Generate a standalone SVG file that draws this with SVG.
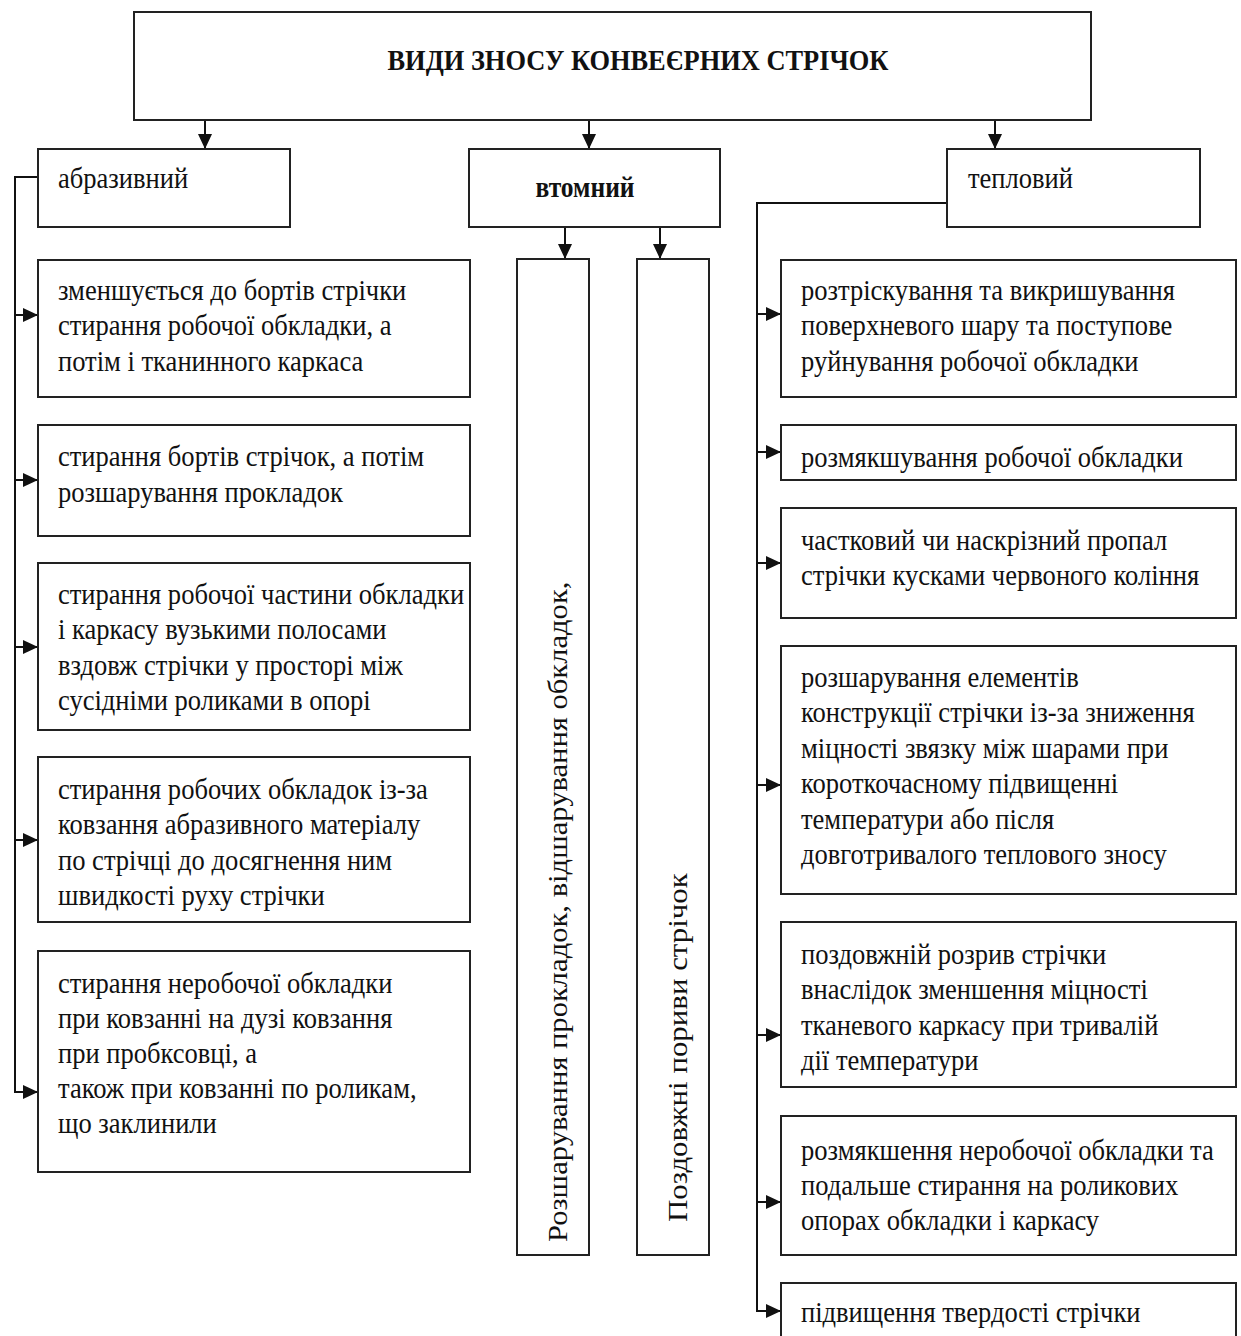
<svg xmlns="http://www.w3.org/2000/svg" width="1241" height="1336" viewBox="0 0 1241 1336">
<style>
.box{fill:#fff;stroke:#222;stroke-width:2}
.t{font-family:"Liberation Serif","Times New Roman",serif;font-size:30px;fill:#111}
.b{font-weight:bold}
.c{fill:none;stroke:#111;stroke-width:2}
</style>
<defs>
<marker id="ah" markerUnits="userSpaceOnUse" markerWidth="16" markerHeight="14" refX="15" refY="7" orient="auto">
<path d="M0,0 L15,7 L0,14 z" fill="#111"/>
</marker>
</defs>
<rect width="1241" height="1336" fill="#fff"/>
<g id="connectors">
<line class="c" x1="205" y1="120" x2="205" y2="149" marker-end="url(#ah)"/>
<line class="c" x1="589" y1="120" x2="589" y2="149" marker-end="url(#ah)"/>
<line class="c" x1="995" y1="120" x2="995" y2="149" marker-end="url(#ah)"/>
<line class="c" x1="565" y1="227" x2="565" y2="259" marker-end="url(#ah)"/>
<line class="c" x1="660" y1="227" x2="660" y2="259" marker-end="url(#ah)"/>
<path class="c" d="M38,177 H15 V1092 H38" marker-end="url(#ah)"/>
<path class="c" d="M15,315 H38" marker-end="url(#ah)"/>
<path class="c" d="M15,480 H38" marker-end="url(#ah)"/>
<path class="c" d="M15,647 H38" marker-end="url(#ah)"/>
<path class="c" d="M15,840 H38" marker-end="url(#ah)"/>
<path class="c" d="M947,203 H757 V1311 H781" marker-end="url(#ah)"/>
<path class="c" d="M757,314 H781" marker-end="url(#ah)"/>
<path class="c" d="M757,452 H781" marker-end="url(#ah)"/>
<path class="c" d="M757,563 H781" marker-end="url(#ah)"/>
<path class="c" d="M757,785 H781" marker-end="url(#ah)"/>
<path class="c" d="M757,1035 H781" marker-end="url(#ah)"/>
<path class="c" d="M757,1202 H781" marker-end="url(#ah)"/>
</g>
<g id="title">
<rect class="box" x="134" y="12" width="957" height="108"/>
<text class="t b" transform="translate(638,70) scale(0.88,1)" text-anchor="middle" font-size="31">ВИДИ ЗНОСУ КОНВЕЄРНИХ СТРІЧОК</text>
</g>
<g id="abrasive">
<rect class="box" x="38" y="149" width="252" height="78"/>
<text class="t" transform="translate(58,188) scale(0.885,1)">абразивний</text>
</g>
<g id="fatigue">
<rect class="box" x="469" y="149" width="251" height="78"/>
<text class="t b" transform="translate(585,197) scale(0.85,1)" text-anchor="middle" font-size="26">втомний</text>
</g>
<g id="thermal">
<rect class="box" x="947" y="149" width="253" height="78"/>
<text class="t" transform="translate(968,188) scale(0.885,1)">тепловий</text>
</g>
<g id="a1">
<rect class="box" x="38" y="260" width="432" height="137"/>
<text class="t" transform="translate(58,300) scale(0.885,1)"><tspan x="0">зменшується до бортів стрічки</tspan><tspan x="0" dy="35.5">стирання робочої обкладки, а</tspan><tspan x="0" dy="35.5">потім і тканинного каркаса</tspan></text>
</g>
<g id="a2">
<rect class="box" x="38" y="425" width="432" height="111"/>
<text class="t" transform="translate(58,466) scale(0.885,1)"><tspan x="0">стирання бортів стрічок, а потім</tspan><tspan x="0" dy="36">розшарування прокладок</tspan></text>
</g>
<g id="a3">
<rect class="box" x="38" y="563" width="432" height="167"/>
<text class="t" transform="translate(58,604) scale(0.885,1)"><tspan x="0">стирання робочої частини обкладки</tspan><tspan x="0" dy="35.5">і каркасу вузькими полосами</tspan><tspan x="0" dy="35.5">вздовж стрічки у просторі між</tspan><tspan x="0" dy="35.5">сусідніми роликами в опорі</tspan></text>
</g>
<g id="a4">
<rect class="box" x="38" y="757" width="432" height="165"/>
<text class="t" transform="translate(58,799) scale(0.885,1)"><tspan x="0">стирання робочих обкладок із-за</tspan><tspan x="0" dy="35.5">ковзання абразивного матеріалу</tspan><tspan x="0" dy="35.5">по стрічці до досягнення ним</tspan><tspan x="0" dy="35.5">швидкості руху стрічки</tspan></text>
</g>
<g id="a5">
<rect class="box" x="38" y="951" width="432" height="221"/>
<text class="t" transform="translate(58,993) scale(0.885,1)"><tspan x="0">стирання неробочої обкладки</tspan><tspan x="0" dy="35">при ковзанні на дузі ковзання</tspan><tspan x="0" dy="35">при пробксовці, а</tspan><tspan x="0" dy="35">також при ковзанні по роликам,</tspan><tspan x="0" dy="35">що заклинили</tspan></text>
</g>
<g id="f1">
<rect class="box" x="517" y="259" width="72" height="996"/>
<text class="t" transform="translate(567,1242) rotate(-90) scale(1.02,0.88)">Розшарування прокладок, відшарування обкладок,</text>
</g>
<g id="f2">
<rect class="box" x="637" y="259" width="72" height="996"/>
<text class="t" transform="translate(687,1222) rotate(-90) scale(1.03,0.88)">Поздовжні пориви стрічок</text>
</g>
<g id="r1">
<rect class="box" x="781" y="260" width="455" height="137"/>
<text class="t" transform="translate(801,300) scale(0.885,1)"><tspan x="0">розтріскування та викришування</tspan><tspan x="0" dy="35.5">поверхневого шару та поступове</tspan><tspan x="0" dy="35.5">руйнування робочої обкладки</tspan></text>
</g>
<g id="r2">
<rect class="box" x="781" y="425" width="455" height="55"/>
<text class="t" transform="translate(801,467) scale(0.885,1)">розмякшування робочої обкладки</text>
</g>
<g id="r3">
<rect class="box" x="781" y="508" width="455" height="110"/>
<text class="t" transform="translate(801,550) scale(0.885,1)"><tspan x="0">частковий чи наскрізний пропал</tspan><tspan x="0" dy="35.5">стрічки кусками червоного коління</tspan></text>
</g>
<g id="r4">
<rect class="box" x="781" y="646" width="455" height="248"/>
<text class="t" transform="translate(801,687) scale(0.885,1)"><tspan x="0">розшарування елементів</tspan><tspan x="0" dy="35.5">конструкції стрічки із-за зниження</tspan><tspan x="0" dy="35.5">міцності звязку між шарами при</tspan><tspan x="0" dy="35.5">короткочасному підвищенні</tspan><tspan x="0" dy="35.5">температури або після</tspan><tspan x="0" dy="35.5">довготривалого теплового зносу</tspan></text>
</g>
<g id="r5">
<rect class="box" x="781" y="922" width="455" height="165"/>
<text class="t" transform="translate(801,964) scale(0.885,1)"><tspan x="0">поздовжній розрив стрічки</tspan><tspan x="0" dy="35.5">внаслідок зменшення міцності</tspan><tspan x="0" dy="35.5">тканевого каркасу при тривалій</tspan><tspan x="0" dy="35.5">дії температури</tspan></text>
</g>
<g id="r6">
<rect class="box" x="781" y="1116" width="455" height="139"/>
<text class="t" transform="translate(801,1160) scale(0.885,1)"><tspan x="0">розмякшення неробочої обкладки та</tspan><tspan x="0" dy="35">подальше стирання на роликових</tspan><tspan x="0" dy="35">опорах обкладки і каркасу</tspan></text>
</g>
<g id="r7">
<rect class="box" x="781" y="1283" width="455" height="70"/>
<text class="t" transform="translate(801,1322) scale(0.885,1)">підвищення твердості стрічки</text>
</g>
</svg>
